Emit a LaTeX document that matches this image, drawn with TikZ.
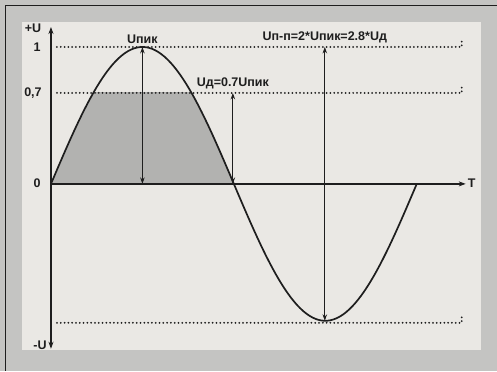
\documentclass[tikz,border=0pt]{standalone}
\usepackage{fontspec}
\setmainfont{Liberation Sans}
\usetikzlibrary{arrows.meta}
\definecolor{paneloutside}{RGB}{196,196,194}
\definecolor{panelinside}{RGB}{234,232,228}
\definecolor{areagray}{RGB}{178,178,176}
\definecolor{inkdark}{RGB}{30,30,30}
\begin{document}
\begin{tikzpicture}[x=1pt,y=-1pt,
  ink/.style    = {draw=inkdark, line width=1.3pt},
  axisline/.style = {ink, -{Stealth[length=7pt,width=5pt]}},
  measure/.style  = {draw=inkdark, line width=1pt,
                     {Stealth[length=6.5pt,width=4.5pt]}-{Stealth[length=6.5pt,width=4.5pt]}},
  levelline/.style = {draw=inkdark, line width=2pt, line cap=round,
                      dash pattern=on 0pt off 3.8pt},
  lbl/.style    = {inner sep=1pt, text=inkdark,
                   font=\bfseries\fontsize{12.5}{14}\selectfont}]
\def\Oy{184}
\def\A{137}
\def\k{1.016667}% period 366 over 360 degrees
  % panel
  \fill[paneloutside] (0,0) rectangle (497,371);
  \draw[inkdark, line width=0.6pt] (5,371) -- (5,5) -- (497,5);
  \fill[panelinside] (22,22) rectangle (481,350);

  % points
  \coordinate (O)     at (51,\Oy);
  \coordinate (ytop)  at (51,27);
  \coordinate (ybot)  at (51,349);
  \coordinate (xend)  at (466,\Oy);
  \coordinate (pk)    at (142.5,47);
  \coordinate (pk0)   at (142.5,\Oy);
  \coordinate (ud)    at (233,93);
  \coordinate (ud0)   at (233,\Oy);
  \coordinate (tr)    at (325,321);
  \coordinate (trtop) at (325,47);

  % shaded area up to 0,7
  \begin{scope}
    \clip (51,93) rectangle (233,\Oy);
    \fill[areagray] plot[domain=0:180, samples=60] ({51+\x*\k},{\Oy-\A*sin(\x)}) -- cycle;
  \end{scope}

  % levels
  \draw[levelline] (57,47) -- (462,47) -- (462,39);
  \draw[levelline] (57,93) -- (462,93) -- (462,85);
  \draw[levelline] (57,323) -- (462,323) -- (462,315);

  % axes
  \draw[axisline] (O) -- (ytop);
  \draw[axisline] (O) -- (ybot);
  \draw[axisline] (O) -- (xend);

  % sine
  \draw[ink, line width=1.7pt] plot[domain=0:360, samples=120] ({51+\x*\k},{\Oy-\A*sin(\x)});

  % measures
  \draw[measure] (pk0) -- (pk);
  \draw[measure] (ud0) -- (ud);
  \draw[measure] (trtop) -- (tr);

  % labels
  \node[lbl] (lplus)  at (33,28)  {+U};
  \node[lbl] (lone)   at (37,47)  {1};
  \node[lbl] (lsev)   at (33,93)  {0,7};
  \node[lbl] (lzero)  at (37,183) {0};
  \node[lbl] (lminus) at (40,345) {-U};
  \node[lbl] (lT)     at (472,183) {T};
  \node[lbl, above=2pt] (lpk) at (pk) {Uпик};
  \node[lbl, above=3pt] (lud) at (ud) {Uд=0.7Uпик};
  \node[lbl, above=3pt] (lpp) at (trtop) {Uп-п=2*Uпик=2.8*Uд};
\end{tikzpicture}
\end{document}
